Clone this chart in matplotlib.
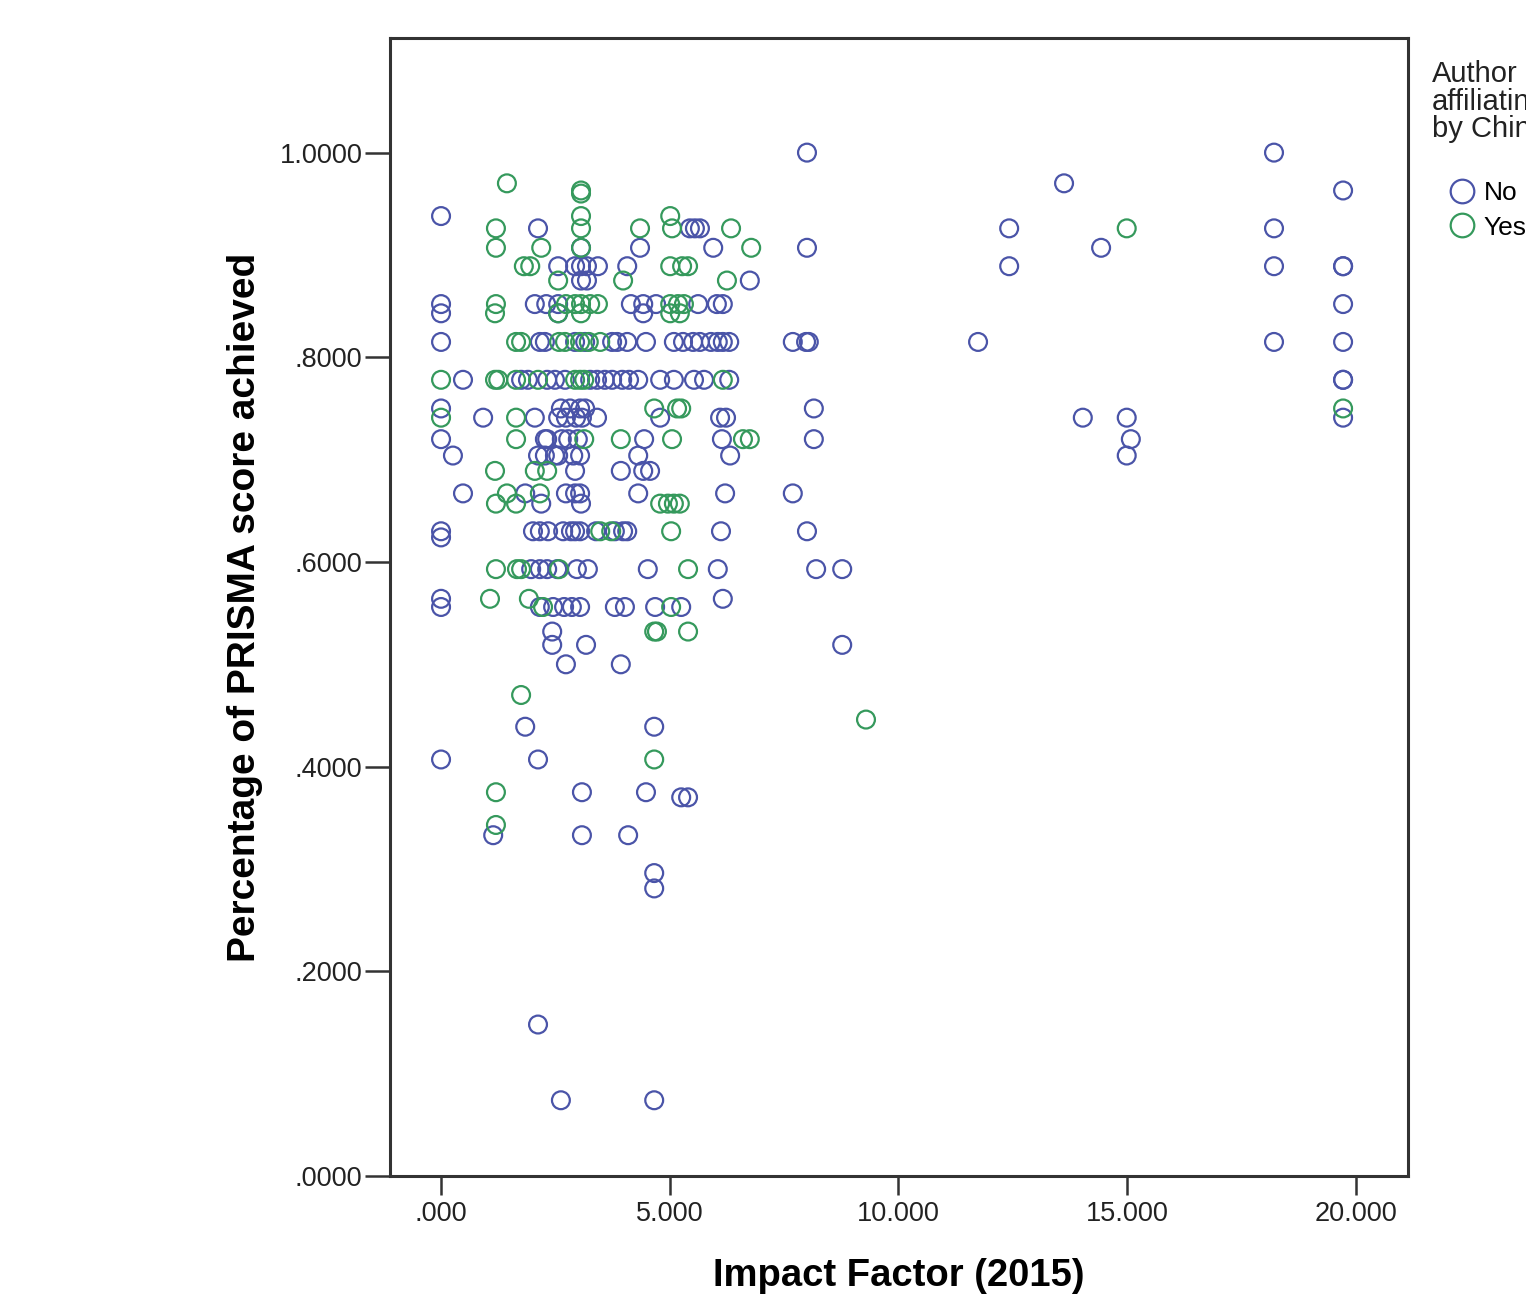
import numpy as np
import matplotlib
matplotlib.use("Agg")
import matplotlib.pyplot as plt
from matplotlib.lines import Line2D

# Impact factor vs PRISMA score, split by author affiliation
no_x = [8.00, 18.21,
        13.62,
        19.72,
        0.0,
        2.12, 5.44, 5.55, 5.66, 12.42, 18.21,
        3.06, 4.35, 5.95, 8.00, 14.43,
        2.56, 2.93, 3.06, 3.19, 3.43, 4.07, 12.42, 18.21, 19.72, 19.72,
        3.06, 3.19, 6.75,
        0.0, 2.05, 2.30, 2.56, 4.15, 4.42, 4.70, 5.62, 6.03, 6.16, 19.72,
        0.0, 4.42, 2.56,
        0.0, 2.16, 2.27, 2.93, 3.15, 3.74, 3.85, 4.07, 4.48, 5.09, 5.29, 5.51,
        5.66, 5.90, 6.05, 6.16, 6.30, 7.69, 7.98, 8.04, 11.74, 18.21, 19.72,
        0.48, 1.75, 1.90, 2.32, 2.49, 2.71, 3.26, 3.41, 3.58, 3.74, 3.96, 4.11,
        4.31, 4.79, 5.09, 5.53, 5.75, 6.30, 19.72, 19.72,
        0.0, 2.62, 2.82, 3.04, 3.15, 8.15,
        0.92, 2.05, 2.56, 2.73, 2.95, 3.08, 3.41, 4.79, 6.10, 6.23, 14.03, 14.99, 19.72,
        0.0, 2.27, 2.32, 2.64, 2.78, 2.99, 4.44, 6.14, 8.15, 15.08,
        0.26, 2.12, 2.27, 2.49, 2.56, 2.89, 3.04, 4.31, 6.32, 14.99,
        2.93, 3.93, 4.42, 4.57,
        0.48, 1.84, 2.73, 2.93, 3.04, 4.31, 6.21, 7.69,
        2.19, 3.06,
        0.0, 0.0, 2.01, 2.16, 2.34, 2.67, 2.84, 2.93, 3.04, 3.39, 3.80, 3.98, 4.07, 6.12, 8.00,
        1.97, 2.16, 2.32, 2.54, 2.97, 3.21, 4.52, 6.05, 8.20, 8.77,
        0.0, 6.16,
        0.0, 2.16, 2.45, 2.69, 2.86, 3.04, 3.80, 4.02, 4.68, 5.25,
        2.43,
        2.43, 3.17, 8.77,
        2.73, 3.93,
        1.84, 4.66,
        0.0, 2.12,
        3.08, 4.48, 5.25, 5.40,
        1.14, 3.08, 4.09,
        4.66,
        4.66,
        2.12,
        2.62, 4.66]
no_y = [1.0, 1.0,
        0.970,
        0.963,
        0.938,
        0.926, 0.926, 0.926, 0.926, 0.926, 0.926,
        0.907, 0.907, 0.907, 0.907, 0.907,
        0.889, 0.889, 0.889, 0.889, 0.889, 0.889, 0.889, 0.889, 0.889, 0.889,
        0.875, 0.875, 0.875,
        0.852, 0.852, 0.852, 0.852, 0.852, 0.852, 0.852, 0.852, 0.852, 0.852, 0.852,
        0.843, 0.843, 0.843,
        0.815, 0.815, 0.815, 0.815, 0.815, 0.815, 0.815, 0.815, 0.815, 0.815, 0.815, 0.815,
        0.815, 0.815, 0.815, 0.815, 0.815, 0.815, 0.815, 0.815, 0.815, 0.815, 0.815,
        0.778, 0.778, 0.778, 0.778, 0.778, 0.778, 0.778, 0.778, 0.778, 0.778, 0.778, 0.778,
        0.778, 0.778, 0.778, 0.778, 0.778, 0.778, 0.778, 0.778,
        0.750, 0.750, 0.750, 0.750, 0.750, 0.750,
        0.741, 0.741, 0.741, 0.741, 0.741, 0.741, 0.741, 0.741, 0.741, 0.741, 0.741, 0.741, 0.741,
        0.720, 0.720, 0.720, 0.720, 0.720, 0.720, 0.720, 0.720, 0.720, 0.720,
        0.704, 0.704, 0.704, 0.704, 0.704, 0.704, 0.704, 0.704, 0.704, 0.704,
        0.689, 0.689, 0.689, 0.689,
        0.667, 0.667, 0.667, 0.667, 0.667, 0.667, 0.667, 0.667,
        0.657, 0.657,
        0.630, 0.624, 0.630, 0.630, 0.630, 0.630, 0.630, 0.630, 0.630, 0.630, 0.630, 0.630, 0.630, 0.630, 0.630,
        0.593, 0.593, 0.593, 0.593, 0.593, 0.593, 0.593, 0.593, 0.593, 0.593,
        0.564, 0.564,
        0.556, 0.556, 0.556, 0.556, 0.556, 0.556, 0.556, 0.556, 0.556, 0.556,
        0.532,
        0.519, 0.519, 0.519,
        0.500, 0.500,
        0.439, 0.439,
        0.407, 0.407,
        0.375, 0.375, 0.370, 0.370,
        0.333, 0.333, 0.333,
        0.296,
        0.281,
        0.148,
        0.074, 0.074]

yes_x = [1.44,
         3.06, 3.06,
         3.06, 5.01,
         1.20, 3.06, 4.35, 5.05, 6.34, 14.99,
         1.20, 2.19, 3.06, 6.78,
         1.81, 1.95, 5.01, 5.27, 5.40,
         2.56, 3.98, 6.25,
         1.20, 2.73, 2.93, 3.06, 3.26, 3.43, 5.01, 5.18, 5.31,
         1.18, 2.56, 3.06, 5.01, 5.22,
         1.64, 1.75, 2.58, 2.71, 3.04, 3.23, 3.48,
         0.0, 1.18, 1.25, 1.64, 2.12, 2.93, 3.04, 3.13, 6.16,
         4.66, 5.16, 5.25, 19.72,
         0.0, 1.64,
         1.64, 3.13, 3.93, 5.05, 6.60, 6.75,
         1.18, 2.05, 2.32,
         1.44, 2.16,
         1.20, 1.64, 4.79, 4.96, 5.09, 5.22,
         3.48, 3.72, 5.03,
         1.20, 1.66, 1.75, 2.58, 5.40,
         1.07, 1.92,
         2.23, 5.03,
         4.66, 4.72, 5.40,
         1.75,
         9.29,
         4.66,
         1.20,
         1.20]
yes_y = [0.970,
         0.963, 0.960,
         0.938, 0.938,
         0.926, 0.926, 0.926, 0.926, 0.926, 0.926,
         0.907, 0.907, 0.907, 0.907,
         0.889, 0.889, 0.889, 0.889, 0.889,
         0.875, 0.875, 0.875,
         0.852, 0.852, 0.852, 0.852, 0.852, 0.852, 0.852, 0.852, 0.852,
         0.843, 0.843, 0.843, 0.843, 0.843,
         0.815, 0.815, 0.815, 0.815, 0.815, 0.815, 0.815,
         0.778, 0.778, 0.778, 0.778, 0.778, 0.778, 0.778, 0.778, 0.778,
         0.750, 0.750, 0.750, 0.750,
         0.741, 0.741,
         0.720, 0.720, 0.720, 0.720, 0.720, 0.720,
         0.689, 0.689, 0.689,
         0.667, 0.667,
         0.657, 0.657, 0.657, 0.657, 0.657, 0.657,
         0.630, 0.630, 0.630,
         0.593, 0.593, 0.593, 0.593, 0.593,
         0.564, 0.564,
         0.556, 0.556,
         0.532, 0.532, 0.532,
         0.470,
         0.446,
         0.407,
         0.375,
         0.343]

x_ticks = [0, 5, 10, 15, 20]
x_labels = [".000", "5.000", "10.000", "15.000", "20.000"]
y_ticks = [0.0, 0.2, 0.4, 0.6, 0.8, 1.0]
y_labels = [".0000", ".2000", ".4000", ".6000", ".8000", "1.0000"]
groups = ["No", "Yes"]

blue = "#4a54a8"
green = "#35995c"

plt.rcParams['font.family'] = ['Liberation Sans', 'DejaVu Sans']

fig = plt.figure(figsize=(15.26, 12.97), dpi=100)
ax = fig.add_axes([0.2556, 0.0933, 0.6671, 0.8774])

ax.scatter(no_x, no_y, s=165, facecolors='none', edgecolors=blue, linewidths=1.6)
ax.scatter(yes_x, yes_y, s=165, facecolors='none', edgecolors=green, linewidths=1.6)

ax.set_xlim(-1.115, 21.14)
ax.set_ylim(0, 1.112)
ax.set_xticks(x_ticks)
ax.set_xticklabels(x_labels)
ax.set_yticks(y_ticks)
ax.set_yticklabels(y_labels)
ax.tick_params(axis='both', direction='out', width=1.8, colors='#333333',
               labelsize=19.5, labelcolor='#222222')
ax.tick_params(axis='y', length=18, pad=2)
ax.tick_params(axis='x', length=14, pad=4)
for sp in ax.spines.values():
    sp.set_linewidth(2.2)
    sp.set_color('#333333')

ax.set_xlabel("Impact Factor (2015)", fontsize=27.5, fontweight='bold', labelpad=22)
ax.set_ylabel("Percentage of PRISMA score achieved", fontsize=28, fontweight='bold',
              labelpad=12)

# legend: title as text, entries as a legend box
fig.text(1432 / 1526, 1 - 60 / 1297, "Author\naffiliating\nby Chinese", fontsize=21,
         va='top', ha='left', linespacing=0.98, color='#222222')
handles = [Line2D([], [], marker='o', linestyle='none', markersize=17, markerfacecolor='none',
                  markeredgecolor=c, markeredgewidth=1.6) for c in (blue, green)]
ax.legend(handles, groups, loc='upper left', bbox_to_anchor=(1436 / 1526, 1 - 181 / 1297),
          bbox_transform=fig.transFigure, frameon=False, fontsize=19,
          handletextpad=-0.2, labelspacing=0.4, borderpad=0, borderaxespad=0,
          handlelength=2.0)

fig.savefig("out.png", dpi=100, facecolor='white')
